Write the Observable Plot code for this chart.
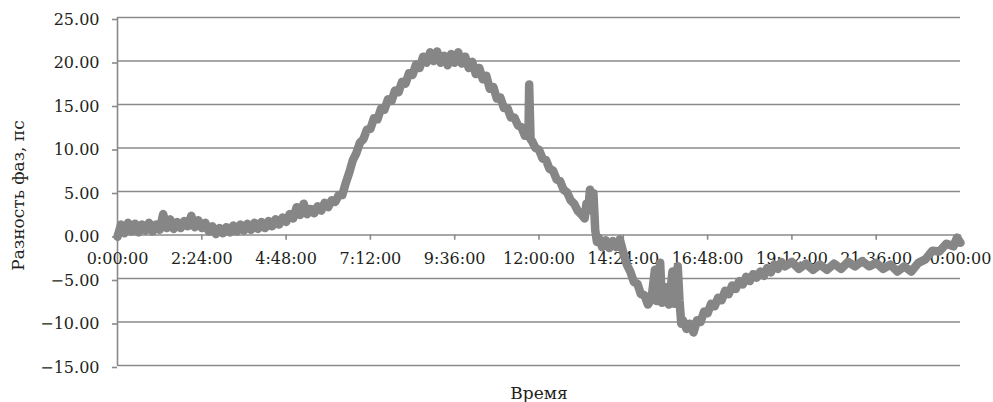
<!DOCTYPE html>
<html>
<head>
<meta charset="utf-8">
<script src="https://cdn.jsdelivr.net/npm/d3@7"></script>
<script src="https://cdn.jsdelivr.net/npm/@observablehq/plot@0.6"></script>
<style>
  html, body { margin: 0; padding: 0; background: #fff; }
</style>
</head>
<body>
<div id="chart"></div>
<script>
// Time in hours since 0:00 and phase difference (ps)
const hours = [
  0.0,0.1,0.2,0.3,0.4,0.5,0.6,0.7,0.8,0.9,
  1.0,1.1,1.2,1.3,1.4,1.5,1.6,1.7,1.8,1.9,
  2.0,2.1,2.2,2.3,2.4,2.5,2.6,2.7,2.8,2.9,
  3.0,3.1,3.2,3.3,3.4,3.5,3.6,3.7,3.8,3.9,
  4.0,4.1,4.2,4.3,4.4,4.5,4.6,4.7,4.8,4.9,
  5.0,5.1,5.2,5.3,5.4,5.5,5.6,5.7,5.8,5.9,
  6.0,6.1,6.2,6.3,6.4,6.5,6.6,6.7,6.8,6.9,
  7.0,7.1,7.2,7.3,7.4,7.5,7.6,7.7,7.8,7.9,
  8.0,8.1,8.2,8.3,8.4,8.5,8.6,8.7,8.8,8.9,
  9.0,9.1,9.2,9.3,9.4,9.5,9.6,9.7,9.8,9.9,
  10.0,10.1,10.2,10.3,10.4,10.5,10.6,10.7,10.8,10.9,
  11.0,11.1,11.2,11.3,11.4,11.5,11.6,11.7,11.72,11.76,11.8,11.9,
  12.0,12.1,12.2,12.3,12.4,12.5,12.6,12.7,12.8,12.9,
  13.0,13.1,13.2,13.3,13.35,13.4,13.45,13.5,13.55,13.6,13.65,13.7,13.8,13.9,
  14.0,14.1,14.2,14.3,14.4,14.5,14.6,14.7,14.8,14.9,
  15.0,15.1,15.2,15.3,15.35,15.45,15.5,15.6,15.7,15.8,15.85,15.95,
  16.0,16.05,16.1,16.2,16.3,16.4,16.5,16.6,16.7,16.8,16.9,
  17.0,17.1,17.2,17.3,17.4,17.5,17.6,17.7,17.8,17.9,
  18.0,18.1,18.2,18.3,18.4,18.5,18.6,18.7,18.8,18.9,
  19.0,19.2,19.4,19.6,19.8,20.0,20.2,20.4,20.6,20.8,
  21.0,21.2,21.4,21.6,21.8,22.0,22.2,22.4,22.6,22.8,
  23.0,23.2,23.4,23.6,23.8,23.9,24.0
];
const phase = [
  -0.2,1.2,0.2,1.4,0.4,1.3,0.3,1.2,0.5,1.4,
  0.4,1.2,0.6,2.4,0.8,1.8,0.7,1.5,0.8,1.6,
  1.0,2.2,0.9,1.7,0.8,1.4,0.4,1.0,0.1,0.8,
  0.2,0.9,0.3,1.1,0.4,1.2,0.5,1.3,0.6,1.4,
  0.7,1.5,0.8,1.6,1.0,1.8,1.2,2.0,1.5,2.4,
  1.9,3.2,2.3,3.6,2.4,3.0,2.5,3.3,2.8,3.7,
  3.2,4.0,3.8,4.6,4.6,6.0,7.2,8.6,9.4,10.6,
  11.0,12.1,12.2,13.4,13.3,14.5,14.4,15.6,15.4,16.6,
  16.4,17.6,17.4,18.6,18.4,19.6,19.2,20.5,19.8,21.0,
  20.0,21.1,19.8,20.6,19.5,20.8,19.8,21.0,19.7,20.5,
  19.2,19.9,18.5,19.2,17.9,18.3,16.8,17.0,15.7,15.8,
  14.6,14.6,13.5,13.5,12.6,12.4,11.4,11.6,17.3,11.0,10.8,10.0,
  9.8,8.8,8.6,7.6,7.4,6.4,6.2,5.2,4.9,4.0,
  3.6,2.8,2.4,1.9,3.6,2.8,5.2,3.6,4.8,0.6,-0.8,-0.3,-1.4,-0.6,
  -1.5,-0.7,-1.4,-0.5,-2.0,-3.4,-4.2,-5.4,-5.6,-6.8,
  -6.9,-8.0,-7.4,-4.0,-7.6,-3.2,-7.8,-6.0,-8.0,-4.2,-7.9,-3.6,
  -7.5,-10.2,-9.8,-10.8,-10.2,-11.2,-9.8,-10.0,-8.8,-9.0,-7.9,
  -8.2,-7.2,-7.5,-6.4,-6.8,-5.8,-6.2,-5.3,-5.7,-4.8,
  -5.3,-4.5,-4.9,-4.2,-4.7,-3.8,-4.3,-3.4,-3.9,-3.1,
  -3.6,-3.1,-3.9,-3.3,-4.0,-3.4,-4.0,-3.3,-3.9,-3.1,
  -3.6,-3.0,-3.6,-3.2,-3.9,-3.4,-4.2,-3.6,-4.2,-3.2,
  -2.8,-1.8,-1.9,-1.0,-1.3,-0.3,-0.9
];
const yTicks = [-15, -10, -5, 0, 5, 10, 15, 20, 25];
const xTicks = [0, 2.4, 4.8, 7.2, 9.6, 12, 14.4, 16.8, 19.2, 21.6, 24];
const xTickLabels = ["0:00:00","2:24:00","4:48:00","7:12:00","9:36:00","12:00:00","14:24:00","16:48:00","19:12:00","21:36:00","0:00:00"];
const yTitle = "Разность фаз, пс";
const xTitle = "Время";

const data = hours.map((h, i) => ({h, v: phase[i]}));
const xt = xTicks.map((t, i) => ({t, label: xTickLabels[i]}));

const grid = "#8a8a8a";
const textColor = "#231f20";

const chart = Plot.plot({
  width: 993,
  height: 402,
  marginLeft: 117,
  marginRight: 33,
  marginTop: 17,
  marginBottom: 37,
  style: {fontFamily: "DejaVu Serif", fontSize: "16px", color: textColor, background: "#fff", overflow: "visible"},
  x: {domain: [0, 24], axis: null},
  y: {domain: [-15, 25], axis: null},
  marks: [
    Plot.ruleY(yTicks, {x1: 0, x2: 24, stroke: grid, strokeWidth: 1.6}),
    Plot.ruleX([0], {y1: -15, y2: 25, stroke: grid, strokeWidth: 1.6}),
    Plot.axisY({ticks: yTicks, tickSize: 5, tickPadding: 13, tickFormat: d3.format(".2f"), label: null, stroke: grid, strokeWidth: 1.6, fill: textColor, dy: 2}),
    Plot.ruleX(xt, {x: "t", y1: 0, y2: -0.6, stroke: grid, strokeWidth: 1.6}),
    Plot.text(xt, {x: "t", y: 0, text: "label", dy: 24, fill: textColor, fontSize: 16}),
    Plot.text([yTitle], {frameAnchor: "left", textAnchor: "middle", dx: -99, dy: 4, rotate: -90, fill: textColor, fontSize: 17}),
    Plot.text([xTitle], {frameAnchor: "bottom", dy: 33, fill: textColor, fontSize: 17}),
    Plot.line(data, {x: "h", y: "v", stroke: "#868686", strokeWidth: 8.5, strokeLinejoin: "round", strokeLinecap: "round"})
  ]
});
document.getElementById("chart").append(chart);
</script>
</body>
</html>
